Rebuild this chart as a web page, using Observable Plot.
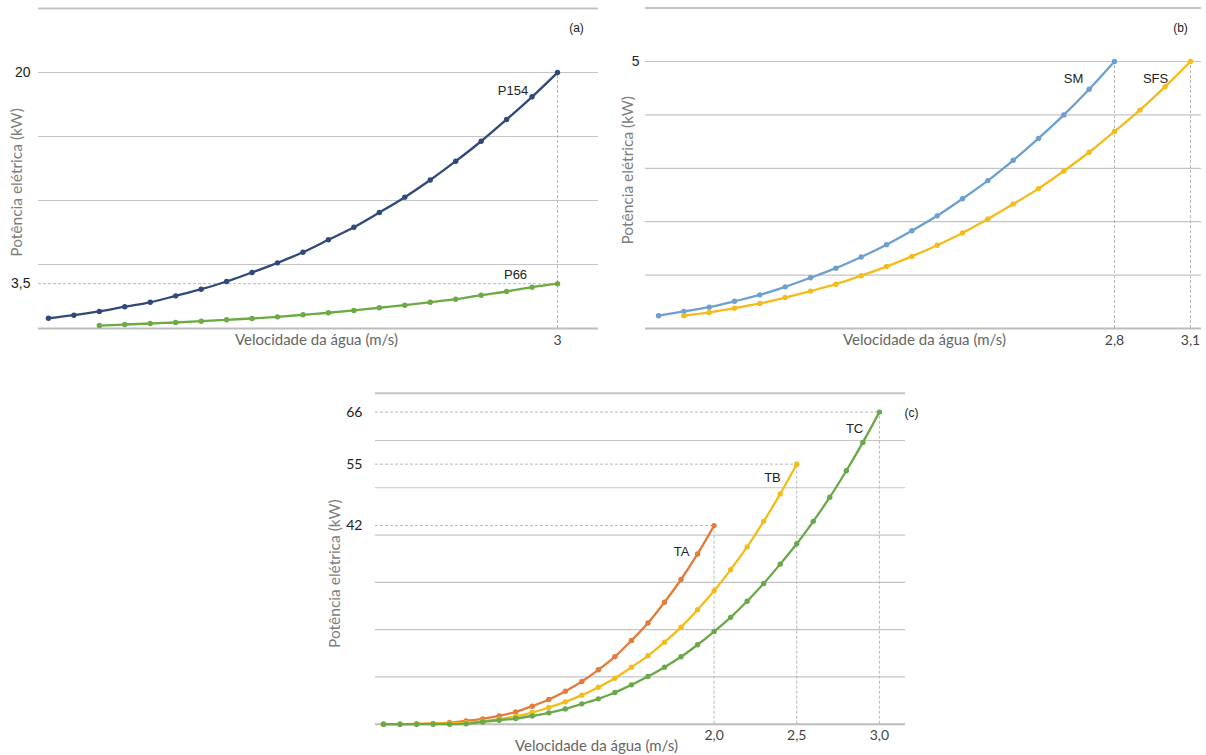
<!DOCTYPE html>
<html><head><meta charset="utf-8">
<script src="https://cdn.jsdelivr.net/npm/d3@7"></script>
<script src="https://cdn.jsdelivr.net/npm/@observablehq/plot@0.6"></script>
<style>
html,body{margin:0;padding:0;background:#fff;}
#wrap{position:relative;width:1206px;height:755px;overflow:hidden;background:#fff;}
#wrap > div{position:absolute;}
svg{overflow:visible;}
</style></head><body>
<div id="wrap"><div id="pa"></div><div id="pb"></div><div id="pc"></div></div>
<script>
// ---------- DATA ----------
// Panel (a)
const speedP154 = [1.0,1.1,1.2,1.3,1.4,1.5,1.6,1.7,1.8,1.9,2.0,2.1,2.2,2.3,2.4,2.5,2.6,2.7,2.8,2.9,3.0];
const powerP154 = [0.80,1.04,1.33,1.70,2.05,2.55,3.07,3.67,4.38,5.13,5.96,6.93,7.91,9.06,10.26,11.60,13.07,14.63,16.33,18.10,20.0];
const speedP66  = [1.2,1.3,1.4,1.5,1.6,1.7,1.8,1.9,2.0,2.1,2.2,2.3,2.4,2.5,2.6,2.7,2.8,2.9,3.0];
const powerP66  = [0.23,0.31,0.39,0.47,0.57,0.68,0.78,0.91,1.07,1.23,1.41,1.62,1.82,2.05,2.29,2.60,2.89,3.23,3.5];
// Panel (b)
const speedSM  = [1.0,1.1,1.2,1.3,1.4,1.5,1.6,1.7,1.8,1.9,2.0,2.1,2.2,2.3,2.4,2.5,2.6,2.7,2.8];
const powerSM  = [0.24,0.32,0.40,0.51,0.63,0.78,0.95,1.13,1.34,1.57,1.83,2.11,2.43,2.77,3.15,3.56,4.00,4.48,5.0];
const speedSFS = [1.1,1.2,1.3,1.4,1.5,1.6,1.7,1.8,1.9,2.0,2.1,2.2,2.3,2.4,2.5,2.6,2.7,2.8,2.9,3.0,3.1];
const powerSFS = [0.24,0.30,0.38,0.47,0.58,0.70,0.83,0.99,1.16,1.35,1.56,1.79,2.05,2.33,2.62,2.95,3.30,3.69,4.09,4.53,5.0];
// Panel (c)
const speedTA = [0.0,0.1,0.2,0.3,0.4,0.5,0.6,0.7,0.8,0.9,1.0,1.1,1.2,1.3,1.4,1.5,1.6,1.7,1.8,1.9,2.0];
const powerTA = [0,0,0.05,0.15,0.35,0.71,1.13,1.76,2.6,3.81,5.22,6.98,9.03,11.5,14.3,17.7,21.4,25.8,30.6,36.0,42.0];
const speedTB = [0.0,0.1,0.2,0.3,0.4,0.5,0.6,0.7,0.8,0.9,1.0,1.1,1.2,1.3,1.4,1.5,1.6,1.7,1.8,1.9,2.0,2.1,2.2,2.3,2.4,2.5];
const powerTB = [0,0,0.03,0.1,0.2,0.3,0.63,1.06,1.69,2.47,3.53,4.73,6.14,7.83,9.73,12.06,14.46,17.35,20.52,24.19,28.2,32.7,37.5,42.9,48.7,55.0];
const speedTC = [0.0,0.1,0.2,0.3,0.4,0.5,0.6,0.7,0.8,0.9,1.0,1.1,1.2,1.3,1.4,1.5,1.6,1.7,1.8,1.9,2.0,2.1,2.2,2.3,2.4,2.5,2.6,2.7,2.8,2.9,3.0];
const powerTC = [0,0,0,0,0,0.07,0.49,0.85,1.2,1.76,2.4,3.24,4.3,5.36,6.7,8.32,10.08,12.06,14.25,16.8,19.6,22.6,26.0,29.76,33.85,38.15,42.9,48.0,53.6,59.6,66.0];

// Tick labels
const ticksYA = [20, 3.5];    const ticksXA = [3];
const ticksYB = [5];          const ticksXB = [2.8, 3.1];
const ticksYC = [66, 55, 42]; const ticksXC = [2.0, 2.5, 3.0];
const gridA = [0,5,10,15,20,25];
const gridB = [0,1,2,3,4,5,6];
const gridC = [0,10,20,30,40,50,60,70];

const yTitle = "Potência elétrica (kW)";
const xTitle = "Velocidade da água (m/s)";

// ---------- HELPERS ----------
const zip = (xs, ys) => xs.map((x, i) => ({x, y: ys[i]}));
const fmt1 = d => d.toFixed(1).replace(".", ",");
const ARIAL = "'Liberation Sans', Arial, sans-serif";
const CAL = "Lato, 'Open Sans', sans-serif";
const GRID = "#c4c4c4";
const DASH = "#b8b8b8";

function seriesMarks(pts, color) {
  return [
    Plot.line(pts, {x: "x", y: "y", stroke: color, strokeWidth: 2.3, curve: "monotone-x"}),
    Plot.dot(pts, {x: "x", y: "y", fill: color, r: 2.7, stroke: "none"})
  ];
}
function gridMarks(vals, top, bottom) {
  return [
    Plot.ruleY(vals.filter(v => v !== top && v !== bottom), {y: d => d, stroke: GRID, strokeWidth: 1.2}),
    Plot.ruleY([top], {y: d => d, stroke: GRID, strokeWidth: 2}),
    Plot.ruleY([bottom], {y: d => d, stroke: "#bdbdbd", strokeWidth: 2})
  ];
}
function titles(xdx, xdy, ydx, ydy) {
  return [
    Plot.text([xTitle], {frameAnchor: "bottom", textAnchor: "middle", lineAnchor: "middle", dx: xdx, dy: xdy, fontSize: 15, fontFamily: CAL, fill: "#666"}),
    Plot.text([yTitle], {frameAnchor: "left", textAnchor: "middle", lineAnchor: "middle", rotate: -90, dx: ydx, dy: ydy, fontSize: 15.5, fontFamily: CAL, fill: "#7d7d7d"})
  ];
}
function tag(label, dx, dy) {
  return Plot.text([label], {frameAnchor: "top-right", textAnchor: "middle", lineAnchor: "middle", dx, dy, fontSize: 12, fontFamily: ARIAL, fill: "#222"});
}
function xTicks(vals, f, dy) {
  return Plot.text(vals, {x: d => d, text: f, frameAnchor: "bottom", lineAnchor: "middle", dy, fontSize: 14, fontFamily: CAL, fill: "#444"});
}
function yTicks(vals, f, dx, font, size) {
  return Plot.text(vals, {y: d => d, text: f, frameAnchor: "left", textAnchor: "end", lineAnchor: "middle", dx, fontSize: size, fontFamily: font, fill: "#222"});
}
function mount(id, left, top, svg) {
  const el = document.getElementById(id);
  el.style.left = left + "px"; el.style.top = top + "px";
  el.appendChild(svg);
}

// ---------- PANEL (a) ----------
{
  const xd = [0.961, 3.161];
  const p154 = zip(speedP154, powerP154), p66 = zip(speedP66, powerP66);
  const svg = Plot.plot({
    width: 600, height: 350,
    marginLeft: 38, marginRight: 2, marginTop: 8, marginBottom: 22,
    x: {domain: xd, axis: null},
    y: {domain: [0, 25], axis: null},
    style: {background: "transparent", overflow: "visible"},
    marks: [
      ...gridMarks(gridA, 25, 0),
      Plot.ruleY([{y: 3.5, x: 3.0}], {y: "y", x1: () => xd[0], x2: "x", stroke: DASH, strokeDasharray: "3,2", strokeWidth: 1}),
      Plot.ruleX([{x: 3.0, y: 20}], {x: "x", y1: () => 0, y2: "y", stroke: DASH, strokeDasharray: "3,2", strokeWidth: 1}),
      ...seriesMarks(p66, "#6cab43"),
      ...seriesMarks(p154, "#2f4a7a"),
      yTicks(ticksYA, d => String(d).replace(".", ","), -8, ARIAL, 14),
      xTicks(ticksXA, d => String(d), 12),
      ...titles(-2, 12, -21, 14),
      tag("(a)", -22, 20),
      Plot.text(["P154"], {x: () => 2.825, y: () => 18.6, fontSize: 13, fontFamily: ARIAL, fill: "#222"}),
      Plot.text(["P66"], {x: () => 2.835, y: () => 4.2, fontSize: 13, fontFamily: ARIAL, fill: "#222"})
    ]
  });
  mount("pa", 0, 0, svg);
}

// ---------- PANEL (b) ----------
{
  const xd = [0.9485, 3.1435];
  const sm = zip(speedSM, powerSM), sfs = zip(speedSFS, powerSFS);
  const svg = Plot.plot({
    width: 606, height: 350,
    marginLeft: 45, marginRight: 5, marginTop: 7.6, marginBottom: 22,
    x: {domain: xd, axis: null},
    y: {domain: [0, 6], axis: null},
    style: {background: "transparent", overflow: "visible"},
    marks: [
      ...gridMarks(gridB, 6, 0),
      Plot.ruleX([{x: 2.8, y: 5}, {x: 3.1, y: 5}], {x: "x", y1: () => 0, y2: "y", stroke: DASH, strokeDasharray: "3,2", strokeWidth: 1}),
      ...seriesMarks(sm, "#6d9fcf"),
      ...seriesMarks(sfs, "#f3bb1b"),
      yTicks(ticksYB, d => String(d), -6, ARIAL, 14),
      xTicks(ticksXB, fmt1, 12),
      ...titles(1, 12, -17, 2),
      tag("(b)", -21, 20.4),
      Plot.text(["SM"], {x: () => 2.638, y: () => 4.68, fontSize: 13, fontFamily: ARIAL, fill: "#222"}),
      Plot.text(["SFS"], {x: () => 2.962, y: () => 4.68, fontSize: 13, fontFamily: ARIAL, fill: "#222"})
    ]
  });
  mount("pb", 600, 0, svg);
}

// ---------- PANEL (c) ----------
{
  const xd = [-0.0484, 3.158];
  const ta = zip(speedTA, powerTA), tb = zip(speedTB, powerTB), tc = zip(speedTC, powerTC);
  const ends = [{x: 2.0, y: 42}, {x: 2.5, y: 55}, {x: 3.0, y: 66}];
  const svg = Plot.plot({
    width: 600, height: 375,
    marginLeft: 55, marginRight: 15, marginTop: 12.7, marginBottom: 31.3,
    x: {domain: xd, axis: null},
    y: {domain: [0, 70], axis: null},
    style: {background: "transparent", overflow: "visible"},
    marks: [
      ...gridMarks(gridC, 70, 0),
      Plot.ruleY(ends, {y: "y", x1: () => xd[0], x2: "x", stroke: DASH, strokeDasharray: "3,2", strokeWidth: 1}),
      Plot.ruleX(ends, {x: "x", y1: () => 0, y2: "y", stroke: DASH, strokeDasharray: "3,2", strokeWidth: 1}),
      ...seriesMarks(ta, "#e07c3c"),
      ...seriesMarks(tb, "#f2bc1a"),
      ...seriesMarks(tc, "#6aa84a"),
      yTicks(ticksYC, d => String(d), -13, CAL, 14),
      xTicks(ticksXC, fmt1, 11),
      ...titles(-44, 22, -40, 15),
      tag("(c)", 6, 20.3),
      Plot.text(["TC"], {x: () => 2.85, y: () => 62.4, fontSize: 13, fontFamily: ARIAL, fill: "#222"}),
      Plot.text(["TB"], {x: () => 2.353, y: () => 52.0, fontSize: 13, fontFamily: ARIAL, fill: "#222"}),
      Plot.text(["TA"], {x: () => 1.803, y: () => 36.5, fontSize: 13, fontFamily: ARIAL, fill: "#222"})
    ]
  });
  mount("pc", 320, 380, svg);
}
</script>
</body></html>
